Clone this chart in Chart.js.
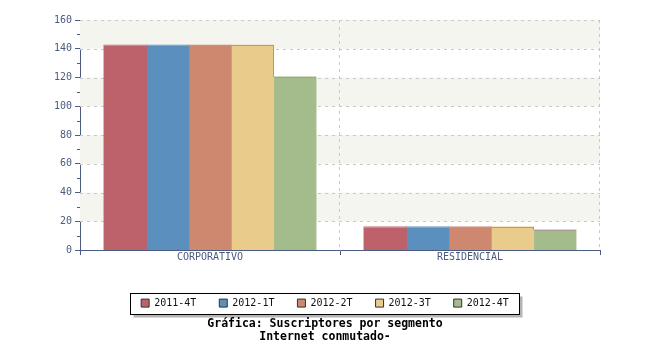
<!DOCTYPE html>
<html>
<head>
<meta charset="utf-8">
<script src="https://cdn.jsdelivr.net/npm/chart.js@4"></script>
<style>
  html, body { margin: 0; padding: 0; background: #fff; }
  #wrap { width: 650px; height: 350px; }
</style>
</head>
<body>
<div id="wrap"><canvas id="chart_segmento" width="650" height="350"></canvas></div>
<script>
// data
var categorias = ["CORPORATIVO", "RESIDENCIAL"];
var periodos = ["2011-4T", "2012-1T", "2012-2T", "2012-3T", "2012-4T"];
var v_2011_4T = [142.5, 16];
var v_2012_1T = [142.5, 16];
var v_2012_2T = [142.5, 16];
var v_2012_3T = [142.5, 16];
var v_2012_4T = [120.3, 14];
var colores = ["#bd616b", "#5b8fbd", "#cf8870", "#e9cb8b", "#a4bc8c"];
var titulo = ["Gráfica: Suscriptores por segmento", "Internet conmutado-"];

var AXIS_COLOR = "#4a5a80";
var EDGE_COLOR = "#a89e90";
var FONT = "'DejaVu Sans Mono', monospace";

//----------------------------------------------------------------------------------------------------------------------------
// plotBackground: alternating bands, dashed grid, minor ticks, bar edges and the framed legend box
//----------------------------------------------------------------------------------------------------------------------------
var plotBackground = {
    id: "plotBackground",
    beforeDraw: function (chart) {
        var ctx = chart.ctx;
        var lg = chart.legend;
        if (lg && lg.legendHitBoxes && lg.legendHitBoxes.length) {
            var hb = lg.legendHitBoxes;
            var l = hb[0].left - 11;
            var r = hb[hb.length - 1].left + hb[hb.length - 1].width + 10;
            var cy = hb[0].top + hb[0].height / 2;
            var t = Math.round(cy - 10.5) + 0.5, b = Math.round(cy + 10.5) + 0.5;
            l = Math.round(l) + 0.5; r = Math.round(r) + 0.5;
            ctx.save();
            ctx.fillStyle = "#b4b4b4";
            ctx.fillRect(l + 3, t + 3, r - l, b - t);
            ctx.fillStyle = "#ffffff";
            ctx.fillRect(l, t, r - l, b - t);
            ctx.strokeStyle = "#000000";
            ctx.lineWidth = 1;
            ctx.strokeRect(l, t, r - l, b - t);
            ctx.restore();
        }
    },
    beforeDatasetsDraw: function (chart) {
        var ctx = chart.ctx, area = chart.chartArea;
        var y = chart.scales.y, x = chart.scales.x;
        ctx.save();
        // bands
        ctx.fillStyle = "#f5f5f0";
        for (var v = 20; v < 160; v += 40) {
            var y1 = y.getPixelForValue(v + 20), y0 = y.getPixelForValue(v);
            ctx.fillRect(area.left, y1, area.right - area.left, y0 - y1);
        }
        // dashed horizontal lines
        ctx.strokeStyle = "#c8c8c8";
        ctx.lineWidth = 1;
        ctx.setLineDash([3, 4]);
        for (var g = 20; g <= 160; g += 20) {
            var py = Math.round(y.getPixelForValue(g)) + 0.5;
            ctx.beginPath();
            ctx.moveTo(area.left, py);
            ctx.lineTo(area.right, py);
            ctx.stroke();
        }
        // dashed vertical lines at category boundaries
        var half = (x.getPixelForValue(1) - x.getPixelForValue(0)) / 2;
        for (var i = 0; i < categorias.length; i++) {
            var px = Math.round(x.getPixelForValue(i) + half) - 0.5;
            ctx.beginPath();
            ctx.moveTo(px, area.top);
            ctx.lineTo(px, area.bottom);
            ctx.stroke();
        }
        ctx.setLineDash([]);
        // minor ticks on the y axis
        ctx.strokeStyle = AXIS_COLOR;
        for (var m = 10; m < 160; m += 20) {
            var my = Math.round(y.getPixelForValue(m)) + 0.5;
            ctx.beginPath();
            ctx.moveTo(area.left - 3, my);
            ctx.lineTo(area.left, my);
            ctx.stroke();
        }
        ctx.restore();
    },
    afterDatasetsDraw: function (chart) {
        // thin greyish edge on top of each bar, and down its right side where the next bar is lower
        var ctx = chart.ctx;
        var n = chart.data.datasets.length;
        ctx.save();
        ctx.strokeStyle = EDGE_COLOR;
        ctx.lineWidth = 1;
        for (var c = 0; c < categorias.length; c++) {
            for (var d = 0; d < n; d++) {
                var bar = chart.getDatasetMeta(d).data[c];
                var l = bar.x - bar.width / 2, r = bar.x + bar.width / 2;
                var top = Math.round(bar.y) + 0.5;
                ctx.beginPath();
                ctx.moveTo(Math.round(l), top);
                ctx.lineTo(Math.round(r), top);
                if (d < n - 1) {
                    var next = chart.getDatasetMeta(d + 1).data[c];
                    if (next.y > bar.y + 1) {
                        ctx.moveTo(Math.round(r) - 0.5, top);
                        ctx.lineTo(Math.round(r) - 0.5, Math.round(next.y));
                    }
                }
                ctx.stroke();
            }
        }
        ctx.restore();
    }
};

function DrawSegmentChart() {
    var series = [v_2011_4T, v_2012_1T, v_2012_2T, v_2012_3T, v_2012_4T];
    var datasets = [];
    for (var i = 0; i < series.length; i++) {
        datasets.push({
            label: periodos[i],
            data: series[i],
            backgroundColor: colores[i],
            borderWidth: 0,
            inflateAmount: 0.5,
            categoryPercentage: 0.815,
            barPercentage: 1.0
        });
    }

    new Chart(document.getElementById("chart_segmento"), {
        type: "bar",
        data: { labels: categorias, datasets: datasets },
        plugins: [plotBackground],
        options: {
            responsive: false,
            animation: false,
            devicePixelRatio: 1,
            layout: { padding: { top: 20, left: 0, right: 0, bottom: 5 } },
            scales: {
                x: {
                    offset: true,
                    grid: { display: true, drawOnChartArea: false, drawTicks: true, tickLength: 5, color: AXIS_COLOR, offset: true },
                    border: { display: true, color: AXIS_COLOR, width: 1 },
                    ticks: { color: AXIS_COLOR, font: { family: FONT, size: 10 }, padding: -4, maxRotation: 0 },
                    afterFit: function (s) { s.height = 25; }
                },
                y: {
                    min: 0,
                    max: 160,
                    grid: { display: true, drawOnChartArea: false, drawTicks: true, tickLength: 5, color: AXIS_COLOR },
                    border: { display: true, color: AXIS_COLOR, width: 1 },
                    ticks: { stepSize: 20, color: AXIS_COLOR, font: { family: FONT, size: 10 }, padding: 3 },
                    afterFit: function (s) { s.width = 80; }
                },
                y2: {
                    position: "right",
                    display: true,
                    grid: { display: false },
                    border: { display: false },
                    ticks: { display: false },
                    afterFit: function (s) { s.width = 50; }
                }
            },
            plugins: {
                legend: {
                    position: "bottom",
                    maxHeight: 40,
                    labels: {
                        boxWidth: 8,
                        boxHeight: 8,
                        padding: 23,
                        color: "#111111",
                        font: { family: FONT, size: 10 },
                        generateLabels: function (chart) {
                            var items = Chart.defaults.plugins.legend.labels.generateLabels(chart);
                            items.forEach(function (it) { it.strokeStyle = "#333333"; it.lineWidth = 1; });
                            return items;
                        }
                    }
                },
                title: {
                    display: true,
                    position: "bottom",
                    text: titulo,
                    color: "#000000",
                    font: { family: FONT, size: 11.5, weight: "bold", lineHeight: 1.17 },
                    padding: { top: 2, bottom: 1 }
                },
                tooltip: { enabled: false }
            }
        }
    });
}

try {
    DrawSegmentChart();
} catch (e) {
    console.log(e);
}
</script>
</body>
</html>
